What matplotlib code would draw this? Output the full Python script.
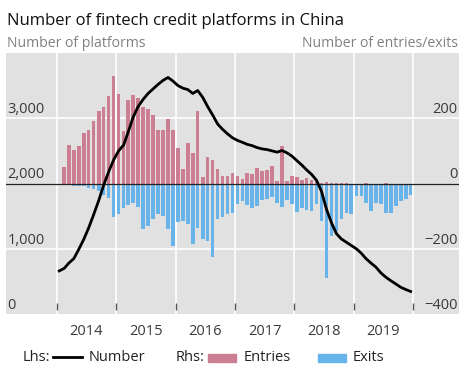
import matplotlib.pyplot as plt
import matplotlib.transforms as mtransforms
import pandas as pd
from matplotlib.lines import Line2D
from matplotlib.patches import Rectangle

plt.rcParams['font.family'] = ['Open Sans', 'DejaVu Sans']

# Monthly data, Jan 2014 - Dec 2019
months = pd.date_range('2014-01-01', '2019-12-01', freq='MS')

# Lhs: number of platforms (end of month)
number = [660, 700, 780, 850, 990, 1145, 1320, 1525, 1740, 1975, 2180, 2360,
          2500, 2590, 2790, 3020, 3180, 3290, 3380, 3450, 3520, 3580, 3625, 3570,
          3500, 3460, 3440, 3380, 3425, 3320, 3180, 3050, 2910, 2830, 2760, 2700,
          2660, 2630, 2600, 2580, 2550, 2530, 2520, 2500, 2480, 2505, 2470, 2420,
          2350, 2280, 2210, 2140, 2050, 1880, 1610, 1400, 1230, 1150, 1100, 1050,
          1000, 930, 850, 780, 720, 630, 565, 510, 460, 410, 375, 345]

# Rhs: monthly entries / exits (from Feb 2014)
entries = [50, 119, 104, 116, 155, 163, 193, 223, 234, 268, 329,
           275, 160, 256, 271, 261, 236, 228, 210, 163, 163, 197, 163,
           109, 43, 124, 92, 223, 20, 81, 73, 43, 24, 22, 33,
           22, 13, 32, 30, 48, 39, 42, 55, 7, 116, 8, 23,
           21, 12, 16, 10, 7, 3, 4, 2, 1, 1, 1, 0,
           0, 0, 1, 0, 0, 0, 1, 0, 0, 0, 0, 0]
exits = [-5, -6, -8, -9, -8, -13, -18, -23, -34, -44, -102,
         -92, -75, -66, -60, -72, -140, -130, -110, -95, -100, -140, -191,
         -118, -115, -125, -186, -135, -170, -176, -226, -110, -103, -92, -91,
         -64, -54, -66, -74, -69, -52, -46, -41, -59, -72, -52, -62,
         -87, -74, -80, -84, -64, -115, -290, -161, -146, -110, -90, -95,
         -39, -39, -59, -84, -59, -64, -90, -90, -69, -54, -47, -34]

lhs_ticks = [0, 1000, 2000, 3000]
lhs_labels = ['0', '1,000', '2,000', '3,000']
rhs_ticks = [-400, -200, 0, 200]
rhs_labels = ['\u2212400', '\u2212200', '0', '200']
years = [2014, 2015, 2016, 2017, 2018, 2019]

pink = '#cc7f92'
blue = '#68b3e9'
W, H = 465, 370

fig = plt.figure(figsize=(W / 100, H / 100), dpi=100)
ax_r = fig.add_axes([6 / W, 56 / H, 453 / W, 261 / H])
ax_l = ax_r.twinx()

mid = months + pd.Timedelta(days=15)

# bars on the right-hand scale
ax_r.set_facecolor('#e1e1e1')
for t in [-200, 200]:
    ax_r.axhline(t, color='white', lw=1.2, zorder=1)
for y in years + [2020]:
    ax_r.axvline(pd.Timestamp(f'{y}-01-01'), color='white', lw=1.2, zorder=1)
ax_r.bar(mid[1:], entries, width=22, color=pink, zorder=2)
ax_r.bar(mid[1:], exits, width=22, color=blue, zorder=2)
ax_r.axhline(0, color='#222222', lw=0.9, zorder=3)
ax_r.set_ylim(-400, 400)

# number of platforms on the left-hand scale
ax_l.plot(mid, number, color='black', lw=2.0, solid_joinstyle='round')
ax_l.set_ylim(0, 4000)

xlim = (pd.Timestamp('2013-02-23'), pd.Timestamp('2020-10-08'))
for a in (ax_r, ax_l):
    a.set_xlim(xlim)
    for s in a.spines.values():
        s.set_visible(False)
    a.set_xticks([])
    a.set_yticks([])

# small year tick marks inside the panel
ax_r.vlines([pd.Timestamp(f'{y}-01-01') for y in years + [2020]], 0.015, 0.042,
            transform=ax_r.get_xaxis_transform(), color='#555555', lw=1, zorder=3)

# axis labels sitting above their gridlines
tl = mtransforms.offset_copy(ax_l.get_yaxis_transform(), fig=fig, y=5, units='dots')
for v, lab in zip(lhs_ticks, lhs_labels):
    ax_l.text(0.003, v, lab, transform=tl, ha='left', va='baseline',
              fontsize=10.5, color='#3a3a3a')
tr = mtransforms.offset_copy(ax_r.get_yaxis_transform(), fig=fig, y=5, units='dots')
for v, lab in zip(rhs_ticks, rhs_labels):
    ax_r.text(0.997, v, lab, transform=tr, ha='right', va='baseline',
              fontsize=10.5, color='#3a3a3a')

ty = mtransforms.offset_copy(ax_r.get_xaxis_transform(), fig=fig, y=-21, units='dots')
for y in years:
    ax_r.text(pd.Timestamp(f'{y}-07-01'), 0, str(y), transform=ty,
              ha='center', va='baseline', fontsize=10.5, color='#3a3a3a')

# titles
fig.text(7 / W, 1 - 25 / H, 'Number of fintech credit platforms in China',
         fontsize=12, color='#111111', va='baseline')
fig.text(7 / W, 1 - 47 / H, 'Number of platforms', fontsize=10.1,
         color='#808080', va='baseline')
fig.text(458 / W, 1 - 47 / H, 'Number of entries/exits', fontsize=10.1,
         color='#808080', va='baseline', ha='right')

# legend
ly = 1 - 361 / H
fig.text(23 / W, ly, 'Lhs:', fontsize=10.5, color='#222222', va='baseline')
fig.add_artist(Line2D([53 / W, 82 / W], [1 - 357 / H] * 2, transform=fig.transFigure,
                      color='black', lw=2.0))
fig.text(89 / W, ly, 'Number', fontsize=10.5, color='#222222', va='baseline')
fig.text(176 / W, ly, 'Rhs:', fontsize=10.5, color='#222222', va='baseline')
fig.add_artist(Rectangle((208 / W, 1 - 362 / H), 28 / W, 8 / H,
                         transform=fig.transFigure, color=pink))
fig.text(244 / W, ly, 'Entries', fontsize=10.5, color='#222222', va='baseline')
fig.add_artist(Rectangle((318 / W, 1 - 362 / H), 28 / W, 8 / H,
                         transform=fig.transFigure, color=blue))
fig.text(353 / W, ly, 'Exits', fontsize=10.5, color='#222222', va='baseline')

fig.savefig('out.png', dpi=100)
